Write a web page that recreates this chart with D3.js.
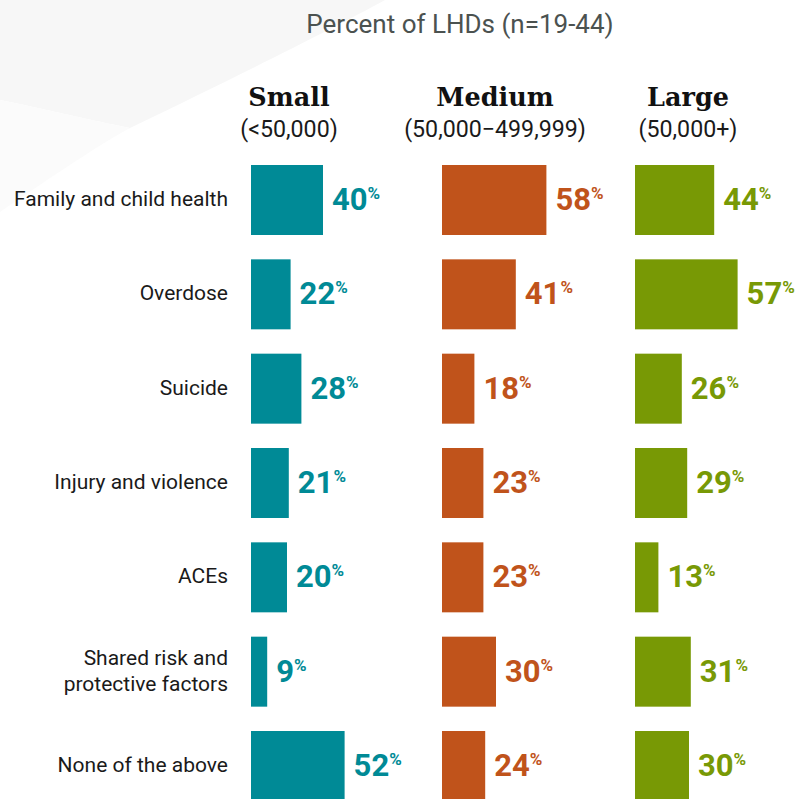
<!DOCTYPE html>
<html>
<head>
<meta charset="utf-8">
<script src="https://cdn.jsdelivr.net/npm/d3@7"></script>
<style>
  html, body { margin: 0; padding: 0; background: #ffffff; }
  svg { display: block; }
</style>
</head>
<body>
<svg id="chart" width="795" height="799"></svg>
<script>
// Topic areas, one row each
const categories = [
  "Family and child health",
  "Overdose",
  "Suicide",
  "Injury and violence",
  "ACEs",
  "Shared risk and\nprotective factors",
  "None of the above"
];

// Percent of LHDs by jurisdiction size
const smallValues  = [40, 22, 28, 21, 20, 9, 52];
const mediumValues = [58, 41, 18, 23, 23, 30, 24];
const largeValues  = [44, 57, 26, 29, 13, 31, 30];

const groupNames  = ["Small", "Medium", "Large"];
const groupRanges = ["(<50,000)", "(50,000\u2212499,999)", "(50,000+)"];
const chartTitle  = "Percent of LHDs (n=19-44)";

const series = [
  { name: groupNames[0], sub: groupRanges[0], values: smallValues,  color: "#008a96", x0: 251, hx: 289 },
  { name: groupNames[1], sub: groupRanges[1], values: mediumValues, color: "#c0531b", x0: 442, hx: 495 },
  { name: groupNames[2], sub: groupRanges[2], values: largeValues,  color: "#789905", x0: 635, hx: 688 }
];

const svg = d3.select("#chart");

// faint backdrop swoosh in the upper-left corner
svg.append("path")
  .attr("d", "M0,0 L385,0 C330,30 250,70 130,128 C80,118 40,108 0,100 Z")
  .attr("fill", "#f7f7f7");
svg.append("path")
  .attr("d", "M0,100 C40,108 80,118 130,128 C90,150 40,185 0,212 Z")
  .attr("fill", "#fbfbfb");

const y = d3.scaleBand()
  .domain(categories)
  .range([165, 801])
  .paddingInner(0.258)
  .paddingOuter(0);

const w = d3.scaleLinear().domain([0, 100]).range([0, 180]);

// title
svg.append("text")
  .attr("x", 460).attr("y", 33)
  .attr("text-anchor", "middle")
  .attr("font-family", "Roboto, sans-serif")
  .attr("font-size", 26)
  .attr("fill", "#4b5250")
  .text(chartTitle);

// category labels
const catG = svg.append("g");
categories.forEach(c => {
  const lines = c.split("\n");
  const cy = y(c) + y.bandwidth() / 2 - 1.5;
  const lh = 26;
  const t = catG.append("text")
    .attr("text-anchor", "end")
    .attr("font-family", "Roboto, sans-serif")
    .attr("font-size", 21)
    .attr("fill", "#1a1a1a");
  lines.forEach((ln, i) => {
    t.append("tspan")
      .attr("x", 228)
      .attr("y", cy + (i - (lines.length - 1) / 2) * lh)
      .attr("dy", "0.35em")
      .text(ln);
  });
});

// one column of bars per size group
series.forEach(s => {
  const g = svg.append("g");

  g.append("text")
    .attr("x", s.hx).attr("y", 106)
    .attr("text-anchor", "middle")
    .attr("font-family", "'DejaVu Serif', serif")
    .attr("font-weight", "bold")
    .attr("font-size", 25.5)
    .attr("fill", "#111111")
    .text(s.name);

  g.append("text")
    .attr("x", s.hx).attr("y", 137)
    .attr("text-anchor", "middle")
    .attr("font-family", "Roboto, sans-serif")
    .attr("font-size", 23.2)
    .attr("fill", "#1a1a1a")
    .text(s.sub);

  const rows = categories.map((c, i) => ({ c, v: s.values[i] }));

  g.selectAll("rect")
    .data(rows)
    .join("rect")
    .attr("x", s.x0)
    .attr("y", d => y(d.c))
    .attr("width", d => w(d.v))
    .attr("height", y.bandwidth())
    .attr("fill", s.color);

  const lbl = g.selectAll("text.val")
    .data(rows)
    .join("text")
    .attr("class", "val")
    .attr("x", d => s.x0 + w(d.v) + 9)
    .attr("y", d => y(d.c) + y.bandwidth() / 2 + 10)
    .attr("font-family", "Roboto, sans-serif")
    .attr("font-weight", "bold")
    .attr("fill", s.color);
  lbl.append("tspan")
    .attr("font-size", 31)
    .text(d => d.v);
  lbl.append("tspan")
    .attr("font-size", 17)
    .attr("dy", -11)
    .text("%");
});
</script>
</body>
</html>
